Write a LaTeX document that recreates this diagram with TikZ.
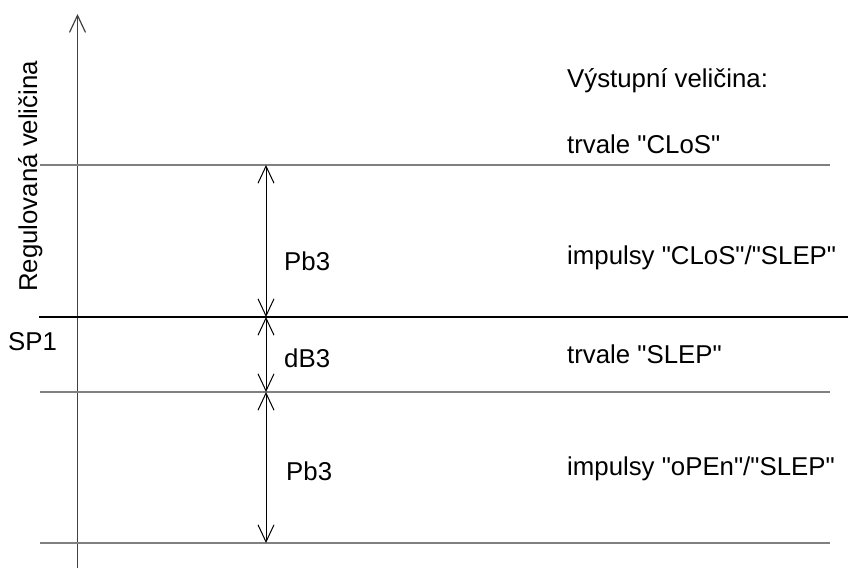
\documentclass[tikz,border=0pt]{standalone}
\usepackage{fontspec}
\setmainfont{Liberation Sans}
% family without TeX ligatures, so " stays a straight quote
\newfontfamily\labelfont{Liberation Sans}
\usetikzlibrary{arrows.meta}
\begin{document}
\begin{tikzpicture}[x=1pt,y=-1pt,
  level/.style={draw=black!50, line width=1.3pt},
  setpoint/.style={draw=black, line width=2.4pt},
  axisline/.style={draw=black!75, line width=1.4pt,
    -{Straight Barb[length=17pt,width=16pt,line width=1.2pt]}},
  dim/.style={draw=black, line width=1pt,
    {Straight Barb[length=17pt,width=16pt,line width=1pt]}-{Straight Barb[length=17pt,width=16pt,line width=1pt]}},
  lbl/.style={anchor=base west, inner sep=0pt, font=\labelfont\fontsize{25.8}{30}\selectfont}]
\useasboundingbox (0,0) rectangle (848,568);

% vertical axis of the controlled variable
\coordinate (ybot) at (77.5,568);
\coordinate (ytop) at (77.5,14);
\draw[axisline] (ybot) -- (ytop);

% band limits
\coordinate (l1a) at (40,165);  \coordinate (l1b) at (830,165);
\coordinate (spa) at (39,317);  \coordinate (spb) at (848,317);
\coordinate (l2a) at (40,392);  \coordinate (l2b) at (830,392);
\coordinate (l3a) at (40,543);  \coordinate (l3b) at (830,543);
\draw[level] (l1a) -- (l1b);
\draw[setpoint] (spa) -- (spb);
\draw[level] (l2a) -- (l2b);
\draw[level] (l3a) -- (l3b);

% band widths
\coordinate (d1) at (266,165);
\coordinate (d2) at (266,317);
\coordinate (d3) at (266,392);
\coordinate (d4) at (266,543);
\draw[dim] (d1) -- (d2);
\draw[dim] (d2) -- (d3);
\draw[dim] (d3) -- (d4);

% labels
\node[lbl, rotate=90] (axlbl) at (37,292) {Regulovaná veličina};
\node[lbl] (sp1) at (8,350) {SP1};
\node[lbl] (pb3a) at (284,270) {Pb3};
\node[lbl] (db3) at (284,367) {dB3};
\node[lbl] (pb3b) at (286,480) {Pb3};

\node[lbl] (out) at (567,87) {Výstupní veličina:};
\node[lbl] (o1) at (567,153) {trvale "CLoS"};
\node[lbl] (o2) at (567,264) {impulsy "CLoS"/"SLEP"};
\node[lbl] (o3) at (567,363) {trvale "SLEP"};
\node[lbl] (o4) at (567,475) {impulsy "oPEn"/"SLEP"};
\end{tikzpicture}
\end{document}
